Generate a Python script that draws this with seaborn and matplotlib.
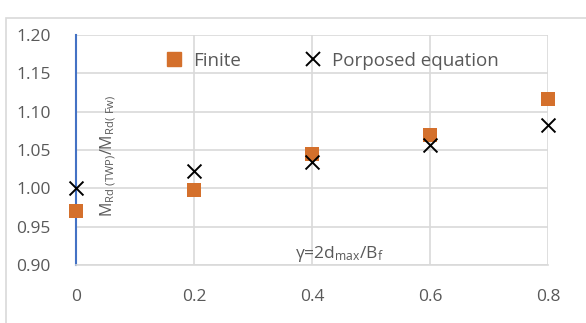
import matplotlib
matplotlib.use("Agg")
import matplotlib.pyplot as plt
import seaborn as sns
import pandas as pd
from matplotlib.patches import Rectangle
from matplotlib.lines import Line2D

gamma = [0, 0.2, 0.4, 0.6, 0.8]
finite = [0.970, 0.998, 1.045, 1.070, 1.116]
proposed = [1.000, 1.023, 1.035, 1.056, 1.083]
x_ticks = [0, 0.2, 0.4, 0.6, 0.8]
x_tick_labels = ["0", "0.2", "0.4", "0.6", "0.8"]
y_ticks = [0.90, 0.95, 1.00, 1.05, 1.10, 1.15, 1.20]
y_tick_labels = ["0.90", "0.95", "1.00", "1.05", "1.10", "1.15", "1.20"]

df_f = pd.DataFrame({"gamma": gamma, "ratio": finite})
df_p = pd.DataFrame({"gamma": gamma, "ratio": proposed})

sns.set_theme(style="white")
plt.rcParams["font.family"] = ["Open Sans", "DejaVu Sans"]
plt.rcParams["mathtext.fontset"] = "custom"
plt.rcParams["mathtext.rm"] = "Open Sans"
plt.rcParams["mathtext.it"] = "Open Sans"

fig = plt.figure(figsize=(5.86, 3.23), dpi=100)
ax = fig.add_axes([76/586, 1-265/323, (548-76)/586, (265-35)/323])

sns.scatterplot(data=df_f, x="gamma", y="ratio", color="#D4702C", marker="s",
                s=115, linewidth=0, ax=ax, zorder=3, legend=False, clip_on=False)
sns.scatterplot(data=df_p, x="gamma", y="ratio", color="black", marker="x",
                s=100, linewidth=1.4, ax=ax, zorder=4, legend=False, clip_on=False)

ax.set_xlim(0, 0.8)
ax.set_ylim(0.9, 1.2)
ax.set_xticks(x_ticks)
ax.set_xticklabels(x_tick_labels)
ax.set_yticks(y_ticks)
ax.set_yticklabels(y_tick_labels)
ax.tick_params(axis="both", length=0, labelsize=12.5, colors="#595959")
ax.tick_params(axis="x", pad=17)
ax.tick_params(axis="y", pad=18)
ax.grid(True, color="#D9D9D9", linewidth=1.2)
ax.set_axisbelow(True)
for side in ["top", "right"]:
    ax.spines[side].set_visible(False)
ax.spines["bottom"].set_color("#D9D9D9")
ax.spines["bottom"].set_linewidth(1.2)
ax.spines["left"].set_color("#4472C4")
ax.spines["left"].set_linewidth(1.5)
ax.set_xlabel("")
ax.set_ylabel("")

ax.text(0.055, 1.042, r"M$_{\mathregular{Rd\ (TWP)}}$/M$_{\mathregular{Rd(\ Fw)}}$",
        rotation=90, ha="center", va="center", fontsize=11.5, color="#595959")
ax.text(0.447, 0.914, r"γ=2d$_{\mathregular{max}}$/B$_{\mathregular{f}}$",
        ha="center", va="center", fontsize=12.5, color="#595959")

handles = [Line2D([], [], marker="s", color="#D4702C", linestyle="", markersize=10.5),
           Line2D([], [], marker="x", color="black", linestyle="", markersize=9.5, markeredgewidth=1.4)]
ax.legend(handles, ["Finite", "Porposed equation"], loc="upper center",
          bbox_to_anchor=(0.532, 1.0), ncol=2, frameon=False, fontsize=13.5,
          handletextpad=0.05, columnspacing=2.8, labelcolor="#595959", borderaxespad=0.5)

fig.add_artist(Rectangle((6/586, -10/323), 600/586, 315/323, transform=fig.transFigure,
                         fill=False, edgecolor="#D9D9D9", linewidth=1.2))
fig.savefig("out.png", dpi=100)
